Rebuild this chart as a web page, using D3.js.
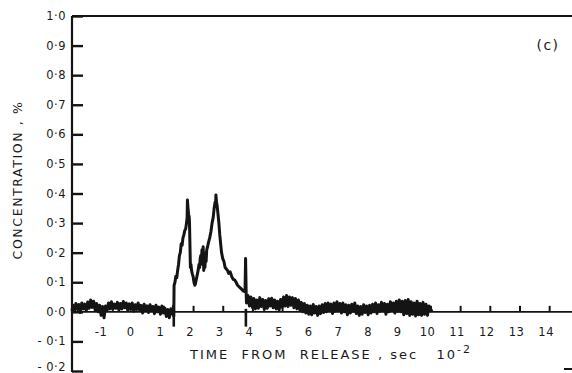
<!DOCTYPE html>
<html>
<head>
<meta charset="utf-8">
<script src="https://cdn.jsdelivr.net/npm/d3@7"></script>
<style>
  html, body { margin: 0; padding: 0; background: #fff; }
  svg { display: block; }
  text { font-family: "DejaVu Sans", "Liberation Sans", sans-serif; fill: #1a1a1a; }
</style>
</head>
<body>
<svg id="chart" width="572" height="373"></svg>
<script>
// Concentration trace, [time (10^-2 s), concentration (%)]
// Background before the puff arrives
const preRelease = [
  [-2.08,0.004],[-2.05,0.022],[-2.00,0.002],[-1.95,0.028],[-1.90,0.008],[-1.85,0.025],
  [-1.80,-0.002],[-1.75,0.030],[-1.70,0.010],[-1.65,0.026],[-1.60,0.004],[-1.55,0.033],
  [-1.50,0.012],[-1.45,0.040],[-1.40,0.015],[-1.35,0.036],[-1.30,0.006],[-1.25,0.028],
  [-1.20,0.000],[-1.15,0.022],[-1.10,-0.012],[-1.05,0.018],[-1.00,-0.020],[-0.95,0.020],
  [-0.90,0.004],[-0.85,0.030],[-0.80,0.010],[-0.75,0.034],[-0.70,0.008],[-0.65,0.026],
  [-0.60,0.012],[-0.55,0.032],[-0.50,0.006],[-0.45,0.028],[-0.40,0.010],[-0.35,0.035],
  [-0.30,0.014],[-0.25,0.030],[-0.20,0.004],[-0.15,0.027],[-0.10,0.008],[-0.05,0.030],
  [0.00,0.002],[0.05,0.024],[0.10,0.008],[0.15,0.030],[0.20,0.005],[0.25,0.022],
  [0.30,-0.004],[0.35,0.026],[0.40,0.006],[0.45,0.020],[0.50,-0.002],[0.55,0.024],
  [0.60,0.004],[0.65,0.018],[0.70,-0.006],[0.75,0.022],[0.80,0.000],[0.85,0.016],
  [0.90,-0.008],[0.95,0.020],[1.00,-0.004],[1.05,0.012],[1.10,-0.016],[1.15,0.008],
  [1.20,-0.020],[1.25,0.010],[1.30,-0.008],[1.34,0.020]
];

// Passage of the puff: two peaks and the decaying shoulder
const plume = [
  [1.35,-0.015],[1.36,0.090],[1.39,0.100],[1.42,0.120],[1.45,0.115],[1.48,0.140],
  [1.51,0.160],[1.54,0.190],[1.57,0.200],[1.60,0.230],[1.63,0.225],[1.66,0.250],
  [1.69,0.260],[1.72,0.275],[1.75,0.280],[1.78,0.300],[1.80,0.320],[1.81,0.378],
  [1.83,0.350],[1.85,0.330],[1.87,0.320],[1.88,0.300],[1.90,0.200],[1.91,0.150],
  [1.93,0.160],[1.95,0.140],[1.97,0.130],[2.00,0.120],[2.03,0.100],[2.06,0.090],
  [2.08,0.095],[2.11,0.110],[2.14,0.125],[2.17,0.140],[2.20,0.160],[2.22,0.150],
  [2.24,0.180],[2.26,0.190],[2.28,0.170],[2.30,0.210],[2.32,0.160],[2.34,0.220],
  [2.36,0.140],[2.38,0.200],[2.40,0.150],[2.42,0.190],[2.44,0.170],[2.46,0.210],
  [2.49,0.220],[2.52,0.235],[2.56,0.250],[2.60,0.270],[2.64,0.300],[2.68,0.320],
  [2.71,0.350],[2.74,0.370],[2.76,0.360],[2.77,0.395],[2.79,0.370],[2.81,0.360],
  [2.84,0.330],[2.87,0.300],[2.90,0.260],[2.93,0.230],[2.96,0.200],[3.00,0.180],
  [3.04,0.170],[3.08,0.150],[3.12,0.145],[3.16,0.140],[3.20,0.130],[3.25,0.135],
  [3.30,0.120],[3.35,0.110],[3.40,0.108],[3.45,0.100],[3.50,0.090],[3.55,0.085],
  [3.60,0.080],[3.65,0.075],[3.70,0.070],[3.75,0.068],[3.77,0.180],[3.79,0.060]
];

// Residual signal after the puff has passed
const tail = [
  [3.80,0.030],[3.85,0.055],[3.90,0.020],[3.95,0.050],[4.00,0.015],[4.05,0.045],
  [4.10,0.010],[4.15,0.040],[4.20,0.012],[4.25,0.048],[4.30,0.018],[4.35,0.042],
  [4.40,0.008],[4.45,0.038],[4.50,0.012],[4.55,0.044],[4.60,0.020],[4.65,0.046],
  [4.70,0.014],[4.75,0.040],[4.80,0.010],[4.85,0.036],[4.90,0.006],[4.95,0.042],
  [5.00,0.016],[5.05,0.050],[5.10,0.020],[5.15,0.055],[5.20,0.018],[5.25,0.050],
  [5.30,0.022],[5.35,0.048],[5.40,0.014],[5.45,0.045],[5.50,0.010],[5.55,0.040],
  [5.60,0.006],[5.65,0.032],[5.70,0.000],[5.75,0.028],[5.80,-0.004],[5.85,0.022],
  [5.90,-0.008],[5.95,0.020],[6.00,-0.010],[6.05,0.025],[6.10,-0.004],[6.15,0.018],
  [6.20,-0.012],[6.25,0.020],[6.30,-0.006],[6.35,0.024],[6.40,-0.002],[6.45,0.028],
  [6.50,0.000],[6.55,0.030],[6.60,0.004],[6.65,0.026],[6.70,-0.006],[6.75,0.030],
  [6.80,0.002],[6.85,0.034],[6.90,0.006],[6.95,0.028],[7.00,-0.004],[7.05,0.030],
  [7.10,0.000],[7.15,0.024],[7.20,-0.010],[7.25,0.022],[7.30,-0.004],[7.35,0.026],
  [7.40,0.002],[7.45,0.030],[7.50,-0.006],[7.55,0.020],[7.60,-0.012],[7.65,0.018],
  [7.70,-0.008],[7.75,0.024],[7.80,-0.002],[7.85,0.020],[7.90,-0.010],[7.95,0.022],
  [8.00,-0.004],[8.05,0.026],[8.10,0.000],[8.15,0.030],[8.20,-0.006],[8.25,0.024],
  [8.30,0.002],[8.35,0.032],[8.40,0.004],[8.45,0.028],[8.50,-0.008],[8.55,0.026],
  [8.60,0.000],[8.65,0.034],[8.70,0.006],[8.75,0.030],[8.80,-0.004],[8.85,0.036],
  [8.90,0.002],[8.95,0.040],[9.00,0.000],[9.05,0.036],[9.10,-0.010],[9.15,0.038],
  [9.20,-0.006],[9.25,0.042],[9.30,-0.012],[9.35,0.034],[9.40,-0.008],[9.45,0.030],
  [9.50,-0.014],[9.55,0.036],[9.60,-0.010],[9.65,0.028],[9.70,-0.012],[9.75,0.032],
  [9.80,-0.008],[9.85,0.026],[9.90,-0.012],[9.95,0.020],[10.00,0.012],[10.05,0.000]
];

// Event markers on the time axis (puff arrival and departure)
const markerTimes = [1.35, 3.78];

const xTickValues = [-1,0,1,2,3,4,5,6,7,8,9,10,11,12,13,14];
const yTickValues = [-0.2,-0.1,0.0,0.1,0.2,0.3,0.4,0.5,0.6,0.7,0.8,0.9,1.0];

const svg = d3.select("#chart");
const ink = "#141414";

const x = d3.scaleLinear().domain([-2.08, 14.77]).range([72, 572]);
const y = d3.scaleLinear().domain([-0.2, 1.0]).range([371, 16]);

// Left axis with ticks pointing inwards
const yAxis = d3.axisRight(y)
  .tickValues(yTickValues)
  .tickSize(11)
  .tickPadding(0)
  .tickFormat(d => "");
const gy = svg.append("g").attr("transform", `translate(${x.range()[0]},0)`).call(yAxis);
gy.select(".domain").attr("d", `M0,${y(1.0)}V372`).attr("stroke", ink).attr("stroke-width", 2.2);
gy.selectAll(".tick line").attr("stroke", ink).attr("stroke-width", 2.4);

// Y tick labels in the old decimal-point style
const fmtY = d => {
  const s = d3.format(".1f")(Math.abs(d)).replace(".", "\u00b7");
  return d < 0 ? "- " + s : s;
};
svg.append("g").selectAll("text")
  .data(yTickValues)
  .join("text")
  .attr("x", 66)
  .attr("y", d => Math.min(y(d) + 4, 371))
  .attr("text-anchor", "end")
  .attr("font-size", 11.5)
  .attr("letter-spacing", 0.5)
  .text(fmtY);

// Top frame line
svg.append("line")
  .attr("x1", x.range()[0]).attr("x2", 572)
  .attr("y1", y(1.0)).attr("y2", y(1.0))
  .attr("stroke", ink).attr("stroke-width", 2.2);

// Zero line doubling as the time axis, short ticks upward
const xAxis = d3.axisTop(x)
  .tickValues(xTickValues)
  .tickSize(6)
  .tickFormat(d => "");
const gx = svg.append("g").attr("transform", `translate(0,${y(0)})`).call(xAxis);
gx.select(".domain").attr("d", `M${x.range()[0]},0H572`).attr("stroke", ink).attr("stroke-width", 1.8);
gx.selectAll(".tick line").attr("stroke", ink).attr("stroke-width", 2);

svg.append("g").selectAll("text")
  .data(xTickValues)
  .join("text")
  .attr("x", d => x(d) - 3)
  .attr("y", y(0) + 24)
  .attr("text-anchor", "middle")
  .attr("font-size", 11.5)
  .attr("letter-spacing", 0.5)
  .text(d => String(d));

// Marker strokes crossing the time axis
svg.append("g").selectAll("line")
  .data(markerTimes)
  .join("line")
  .attr("x1", d => x(d)).attr("x2", d => x(d))
  .attr("y1", y(0.01)).attr("y2", y(-0.05))
  .attr("stroke", ink).attr("stroke-width", 2.6);

// Concentration record
const trace = preRelease.concat(plume, tail);
svg.append("path")
  .datum(trace)
  .attr("fill", "none")
  .attr("stroke", ink)
  .attr("stroke-width", 3)
  .attr("stroke-linejoin", "round")
  .attr("d", d3.line().x(d => x(d[0])).y(d => y(d[1])));

// Short stub at the lower right corner
svg.append("line")
  .attr("x1", 564).attr("x2", 572)
  .attr("y1", 369).attr("y2", 369)
  .attr("stroke", ink).attr("stroke-width", 2);

// Axis titles
svg.append("text")
  .attr("transform", `translate(22,180) rotate(-90)`)
  .attr("text-anchor", "middle")
  .attr("font-size", 12.5)
  .attr("letter-spacing", 1.6)
  .text("CONCENTRATION , %");

const xt = svg.append("text")
  .attr("x", 190)
  .attr("y", 359)
  .attr("font-size", 13)
  .attr("letter-spacing", 2)
  .style("white-space", "pre");
xt.append("tspan").text("TIME  FROM  RELEASE , sec   10");
xt.append("tspan").attr("dy", -6).attr("font-size", 11).text("-2");

// Panel label
svg.append("text")
  .attr("x", 548).attr("y", 50)
  .attr("text-anchor", "middle")
  .attr("font-size", 14)
  .attr("letter-spacing", 1.5)
  .text("(c)");
</script>
</body>
</html>
